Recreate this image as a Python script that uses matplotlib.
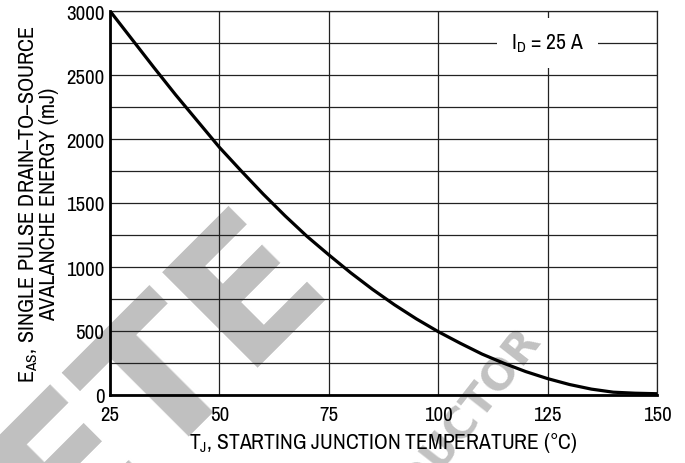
import matplotlib
matplotlib.use("Agg")
import matplotlib.pyplot as plt
from matplotlib import font_manager as fm
from matplotlib.ticker import MultipleLocator

available = set(f.name for f in fm.fontManager.ttflist)
preferred = ['Liberation Sans Narrow', 'Archivo Narrow', 'Roboto Condensed',
             'Arimo', 'Liberation Sans', 'DejaVu Sans']
main_font = next(n for n in preferred if n in available)

plt.rcParams['font.family'] = [main_font, 'DejaVu Sans']
plt.rcParams['mathtext.fontset'] = 'custom'
plt.rcParams['mathtext.rm'] = main_font
plt.rcParams['mathtext.it'] = main_font

# Data
temp_c = [25, 30, 35, 40, 45, 50, 55, 60, 65, 70, 75, 80, 85, 90, 95,
          100, 105, 110, 115, 120, 125, 130, 135, 140, 145, 150]
energy_mj = [3000, 2780, 2560, 2345, 2140, 1935, 1750, 1570, 1400, 1240, 1095,
             955, 825, 705, 595, 495, 405, 320, 248, 183, 128, 82, 46, 22, 14, 10]
x_ticks = [25, 50, 75, 100, 125, 150]
y_ticks = [0, 500, 1000, 1500, 2000, 2500, 3000]

fig = plt.figure(figsize=(6.85, 4.64), dpi=100)
ax = fig.add_axes([110/685, 1-396/464, 547/685, 384/464])
ax.patch.set_visible(False)

# watermark
fig.text(333/685, 1-283/464, "OBSOLETE", rotation=45, rotation_mode='anchor',
         ha='right', va='baseline', fontsize=133, fontweight='bold',
         family='DejaVu Sans', color='#c0c0c0', zorder=-5)
fig.text(542/685, 1-340/464, "SEMICONDUCTOR", rotation=52, rotation_mode='anchor',
         ha='right', va='baseline', fontsize=31, fontweight='bold',
         family='DejaVu Sans', color='#c2c2c2', zorder=-5)

ax.plot(temp_c, energy_mj, color='black', lw=2.3, zorder=5, solid_capstyle='butt')

ax.set_xlim(25, 150)
ax.set_ylim(0, 3000)
ax.set_xticks(x_ticks)
ax.set_yticks(y_ticks)
ax.yaxis.set_minor_locator(MultipleLocator(250))
ax.grid(True, which='major', color='#222222', lw=0.9)
ax.grid(True, which='minor', axis='y', color='#222222', lw=0.9)
ax.tick_params(which='both', length=0)
ax.tick_params(axis='x', pad=7, labelsize=15)
ax.tick_params(axis='y', pad=4, labelsize=15)

for s in ['left', 'bottom']:
    ax.spines[s].set_linewidth(2.0)
    ax.spines[s].set_zorder(6)
for s in ['top', 'right']:
    ax.spines[s].set_linewidth(0.9)
    ax.spines[s].set_color('#222222')

ax.set_xlabel("T$_{\\mathrm{J}}$, STARTING JUNCTION TEMPERATURE (\u00b0C)", fontsize=15.5)
ax.xaxis.set_label_coords(0.5, -0.09)
ax.set_ylabel("E$_{\\mathrm{AS}}$, SINGLE PULSE DRAIN\u2013TO\u2013SOURCE\nAVALANCHE ENERGY (mJ)",
              fontsize=16, linespacing=0.9)
ax.yaxis.set_label_coords(-0.094, 0.5)

ax.text(125, 2750, "I$_{\\mathrm{D}}$ = 25 A", ha='center', va='center', fontsize=15.5,
        bbox=dict(boxstyle='square,pad=0.65', fc='white', ec='none'), zorder=4)

fig.savefig("out.png", dpi=100)
